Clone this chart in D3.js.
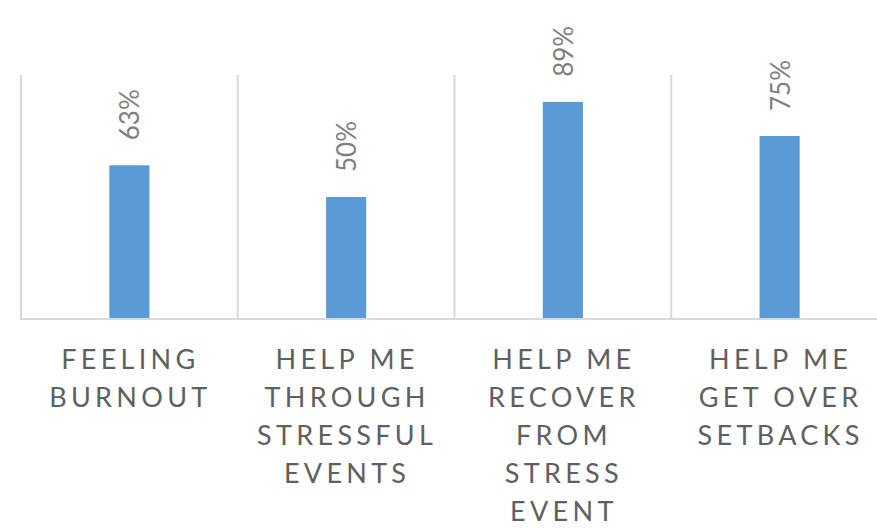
<!DOCTYPE html>
<html>
<head>
<meta charset="utf-8">
<script src="https://cdn.jsdelivr.net/npm/d3@7"></script>
<style>
  html, body { margin: 0; padding: 0; background: #fff; }
  svg { display: block; }
</style>
</head>
<body>
<svg id="chart" width="877" height="528"></svg>
<script>
const categories = ["FEELING BURNOUT", "HELP ME THROUGH STRESSFUL EVENTS", "HELP ME RECOVER FROM STRESS EVENT", "HELP ME GET OVER SETBACKS"];
const labelLines = [
  ["FEELING", "BURNOUT"],
  ["HELP ME", "THROUGH", "STRESSFUL", "EVENTS"],
  ["HELP ME", "RECOVER", "FROM", "STRESS", "EVENT"],
  ["HELP ME", "GET OVER", "SETBACKS"]
];
const values = [0.63, 0.50, 0.89, 0.75];
const valueLabels = ["63%", "50%", "89%", "75%"];

const svg = d3.select("#chart");
const fontFam = "Lato, 'Open Sans', 'Liberation Sans', sans-serif";

const x = d3.scaleBand().domain(categories).range([21, 888]).padding(0);
const y = d3.scaleLinear().domain([0, 1]).range([319, 75]);
const barW = x.bandwidth() * 0.185;

const grid = "#d9d9d9";

// vertical category separators
const sepX = categories.map(c => x(c)).concat([x.range()[1]]);
svg.append("g").selectAll("line").data(sepX).join("line")
  .attr("x1", d => d).attr("x2", d => d)
  .attr("y1", y(1)).attr("y2", y(0))
  .attr("stroke", grid).attr("stroke-width", 2);

// bars
svg.append("g").selectAll("rect").data(values).join("rect")
  .attr("x", (d, i) => x(categories[i]) + x.bandwidth() / 2 - barW / 2)
  .attr("width", barW)
  .attr("y", d => y(d))
  .attr("height", d => y(0) - y(d))
  .attr("fill", "#5b9bd5");

// baseline
svg.append("line")
  .attr("x1", x.range()[0] - 1).attr("x2", x.range()[1])
  .attr("y1", y(0)).attr("y2", y(0))
  .attr("stroke", grid).attr("stroke-width", 2);

// value labels (rotated)
svg.append("g").selectAll("text").data(values).join("text")
  .attr("transform", (d, i) => {
    const cx = x(categories[i]) + x.bandwidth() / 2;
    return `translate(${cx},${y(d) - 25}) rotate(-90)`;
  })
  .attr("text-anchor", "start")
  .attr("dominant-baseline", "central")
  .attr("font-family", fontFam)
  .attr("font-size", 26)
  .attr("fill", "#7f7f7f")
  .text((d, i) => valueLabels[i]);

// category labels
const lab = svg.append("g").selectAll("text").data(categories).join("text")
  .attr("text-anchor", "middle")
  .attr("font-family", fontFam)
  .attr("font-size", 27)
  .attr("letter-spacing", "4.3px")
  .attr("fill", "#5f5f5f");
lab.each(function(c, i) {
  const t = d3.select(this);
  labelLines[i].forEach((ln, j) => {
    t.append("tspan")
      .attr("x", x(c) + x.bandwidth() / 2 + 1)
      .attr("y", 369 + j * 38)
      .text(ln);
  });
});
</script>
</body>
</html>
